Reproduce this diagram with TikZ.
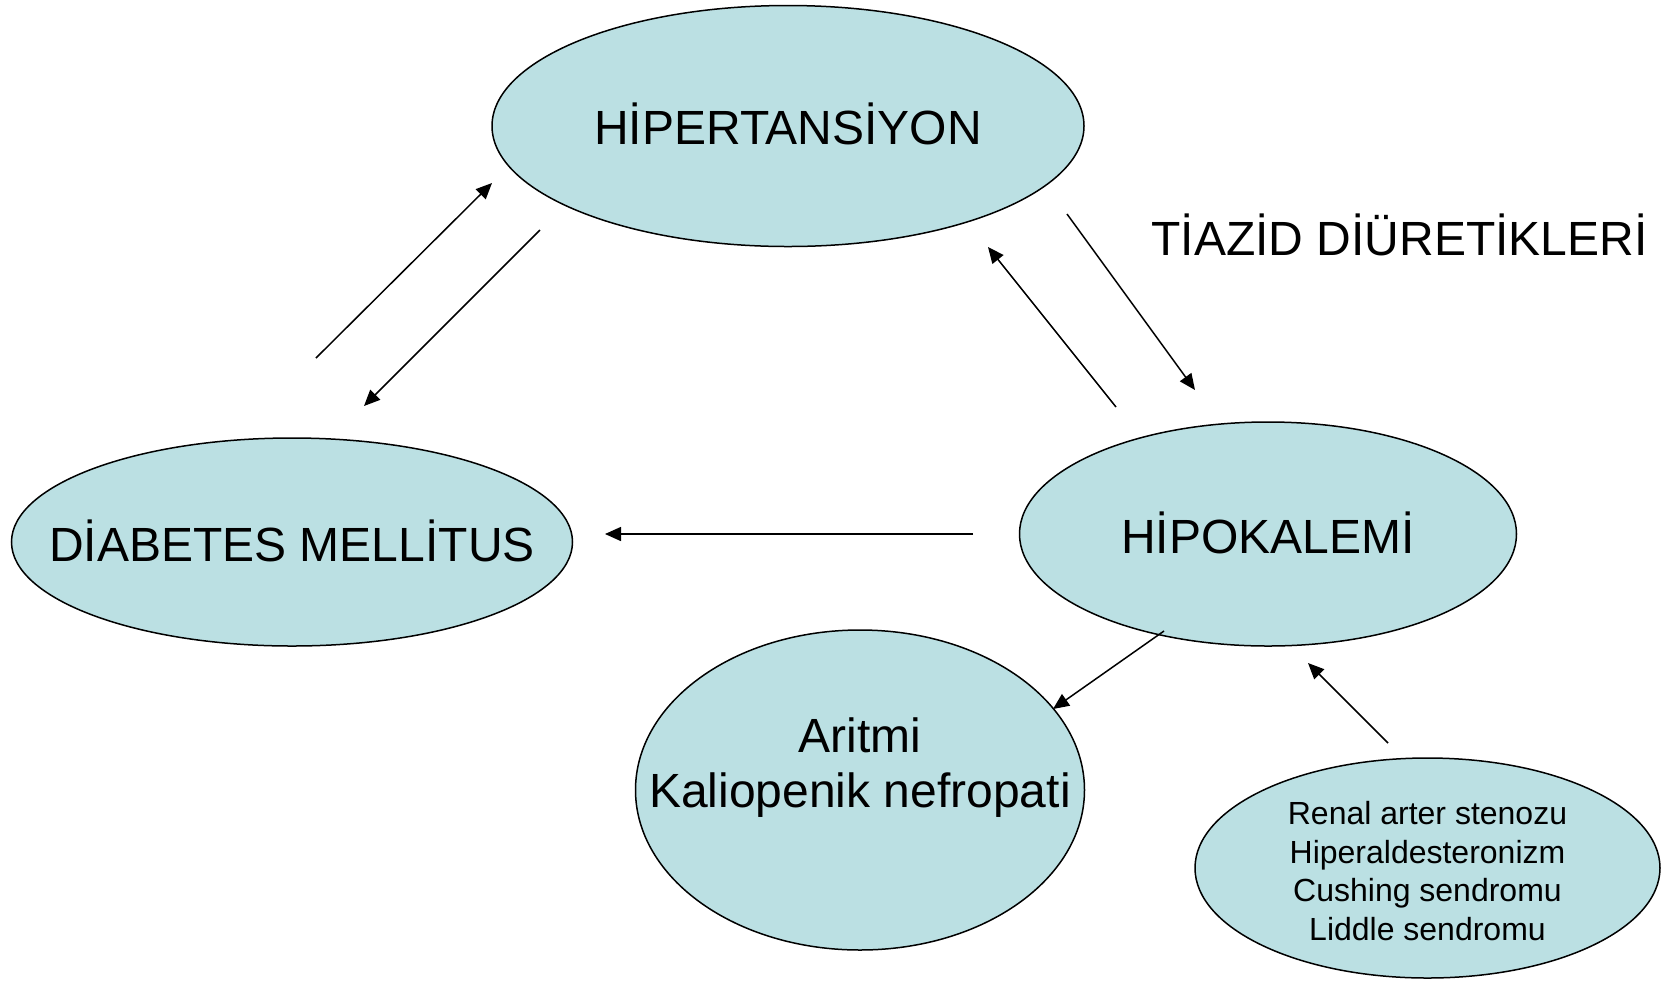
\documentclass[tikz,border=0pt]{standalone}
\usepackage{fontspec}
\setmainfont{Liberation Sans}
\usetikzlibrary{shapes.geometric,arrows.meta}
\definecolor{bubble}{RGB}{187,224,227}
\begin{document}
\begin{tikzpicture}[x=0.5pt,y=-0.5pt,
  bub/.style={ellipse,draw=black,line width=0.75pt,fill=bubble,inner sep=0pt},
  big/.style={font=\fontsize{24}{27.5}\selectfont,anchor=base,align=center},
  small/.style={font=\fontsize{16}{19.2}\selectfont,anchor=base,align=center},
  arr/.style={line width=0.75pt,-{Triangle[length=8pt,width=7pt]}}]
\useasboundingbox[fill=white] (0,0) rectangle (1672,982);
% ellipses
\node[bub,minimum width=296pt,minimum height=120.5pt] (hyp) at (788,126) {};
\node[bub,minimum width=280.5pt,minimum height=104pt] (dm) at (292,542) {};
\node[bub,minimum width=248.5pt,minimum height=112pt] (hipo) at (1268,534) {};
\node[bub,minimum width=224.5pt,minimum height=160pt] (arit) at (860,790) {};
\node[bub,minimum width=232.5pt,minimum height=110pt] (ren) at (1427.5,868) {};
% texts (base anchor = baseline of the last line)
\node[big] (thyp) at (788,144.5) {HİPERTANSİYON};
\node[big] (tdm) at (292,561) {DİABETES MELLİTUS};
\node[big] (thipo) at (1268,553) {HİPOKALEMİ};
\node[big] (tarit) at (860,807) {Aritmi\\Kaliopenik nefropati};
\node[small] (tren) at (1427.5,940) {Renal arter stenozu\\Hiperaldesteronizm\\Cushing sendromu\\Liddle sendromu};
\node[big] (tiaz) at (1399.5,255) {TİAZİD DİÜRETİKLERİ};
% arrow end points
\coordinate (a1s) at (316,358);  \coordinate (a1e) at (492,183);
\coordinate (a2s) at (540,230);  \coordinate (a2e) at (364,406);
\coordinate (a3s) at (1116,407); \coordinate (a3e) at (988,247);
\coordinate (a4s) at (1067,214); \coordinate (a4e) at (1195,390);
\coordinate (a5s) at (973,534);  \coordinate (a5e) at (605,534);
\coordinate (a6s) at (1164,631); \coordinate (a6e) at (1053,709);
\coordinate (a7s) at (1388,743); \coordinate (a7e) at (1308,663);
\draw[arr] (a1s) -- (a1e);
\draw[arr] (a2s) -- (a2e);
\draw[arr] (a3s) -- (a3e);
\draw[arr] (a4s) -- (a4e);
\draw[arr] (a5s) -- (a5e);
\draw[arr] (a6s) -- (a6e);
\draw[arr] (a7s) -- (a7e);
\end{tikzpicture}
\end{document}
